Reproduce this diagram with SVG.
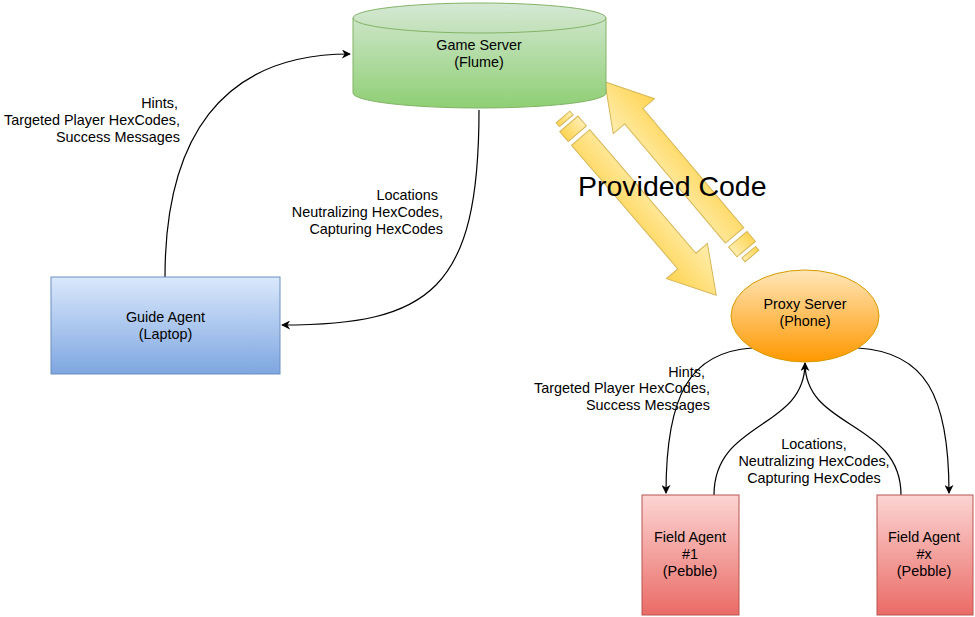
<svg xmlns="http://www.w3.org/2000/svg" width="975" height="617" viewBox="0 0 975 617">
<defs>
<linearGradient id="gGreen" x1="0" y1="0" x2="0" y2="1"><stop offset="0" stop-color="#d5e8d4"/><stop offset="1" stop-color="#8fcf74"/></linearGradient>
<linearGradient id="gBlue" x1="0" y1="0" x2="0" y2="1"><stop offset="0" stop-color="#dae8fc"/><stop offset="1" stop-color="#7ea6e0"/></linearGradient>
<linearGradient id="gOrange" x1="0" y1="0" x2="0" y2="1"><stop offset="0" stop-color="#ffe6b8"/><stop offset="1" stop-color="#ff9800"/></linearGradient>
<linearGradient id="gRed" x1="0" y1="0" x2="0" y2="1"><stop offset="0" stop-color="#fcd5d3"/><stop offset="1" stop-color="#ea6b66"/></linearGradient>
<linearGradient id="gYellow" x1="0" y1="0" x2="0" y2="1"><stop offset="0" stop-color="#ffeeb0"/><stop offset="1" stop-color="#ffd452"/></linearGradient>
<marker id="ah" viewBox="0 0 10 10" refX="9" refY="5" markerWidth="9" markerHeight="9" markerUnits="userSpaceOnUse" orient="auto">
<path d="M0,0 L10,5 L0,10 L3,5 Z" fill="#000"/>
</marker>
</defs>
<style>
text{font-family:"Liberation Sans",Arial,Helvetica,sans-serif;font-size:14.4px;fill:#000}
.c{text-anchor:middle}
.e{text-anchor:end}
.conn{fill:none;stroke:#000;stroke-width:1.2;marker-end:url(#ah)}
.plain{fill:none;stroke:#000;stroke-width:1.2}
.ya{fill:url(#gYellow);stroke:#d6b656;stroke-width:1}
</style>
<rect width="975" height="617" fill="#fff"/>

<g id="connectors">
<path class="conn" d="M165,277 C165,140 220,54 350,54"/>
<path class="conn" d="M479,110 C479,290 430,325 282,325"/>
<path class="conn" d="M752,348 C690,352 666,395 666,493"/>
<path class="conn" d="M858,348 C925,352 949,395 949,493"/>
<path class="conn" d="M714,495 C714,420 805,430 805,363"/>
<path class="plain" d="M901,495 C901,420 805,430 805,363"/>
</g>

<g id="provided-code">
<g transform="translate(563,117) rotate(49.3)">
<rect class="ya" x="0" y="-9" width="5" height="18"/>
<rect class="ya" x="9" y="-12" width="13" height="24"/>
<path class="ya" d="M27,-12 L190,-12 L190,-27 L235,0 L190,27 L190,12 L27,12 Z"/>
</g>
<g transform="translate(752,256) rotate(229.8)">
<rect class="ya" x="0" y="-9" width="5" height="18"/>
<rect class="ya" x="9" y="-12" width="13" height="24"/>
<path class="ya" d="M27,-12 L183,-12 L183,-27 L228,0 L183,27 L183,12 L27,12 Z"/>
</g>
<text x="578" y="196" style="font-size:28.5px">Provided Code</text>
</g>

<g id="game-server">
<path d="M353,18 A126.5,15 0 0 1 606,18 L606,93 A126.5,15 0 0 1 353,93 Z" fill="url(#gGreen)" stroke="#82b366" stroke-width="1"/>
<path d="M353,18 A126.5,15 0 0 0 606,18" fill="none" stroke="#82b366" stroke-width="1"/>
<text class="c" x="479" y="50">Game Server</text>
<text class="c" x="479" y="67">(Flume)</text>
</g>

<g id="guide-agent">
<rect x="51" y="277" width="229" height="97" fill="url(#gBlue)" stroke="#6c8ebf" stroke-width="1"/>
<text class="c" x="165.5" y="322">Guide Agent</text>
<text class="c" x="165.5" y="339">(Laptop)</text>
</g>

<g id="proxy-server">
<ellipse cx="805" cy="316" rx="74" ry="46" fill="url(#gOrange)" stroke="#d79b00" stroke-width="1"/>
<text class="c" x="805" y="309">Proxy Server</text>
<text class="c" x="805" y="326">(Phone)</text>
</g>

<g id="field-agent-1">
<rect x="642" y="495" width="97" height="120" fill="url(#gRed)" stroke="#b85450" stroke-width="1"/>
<text class="c" x="690" y="542">Field Agent</text>
<text class="c" x="690" y="559">#1</text>
<text class="c" x="690" y="576">(Pebble)</text>
</g>

<g id="field-agent-x">
<rect x="877" y="495" width="96" height="120" fill="url(#gRed)" stroke="#b85450" stroke-width="1"/>
<text class="c" x="924" y="542">Field Agent</text>
<text class="c" x="924" y="559">#x</text>
<text class="c" x="924" y="576">(Pebble)</text>
</g>

<g id="labels">
<text class="e" x="178" y="108">Hints,</text>
<text class="e" x="180" y="125">Targeted Player HexCodes,</text>
<text class="e" x="180" y="142">Success Messages</text>
<text class="e" x="438" y="200">Locations</text>
<text class="e" x="443" y="217">Neutralizing HexCodes,</text>
<text class="e" x="443" y="234">Capturing HexCodes</text>
<text class="e" x="705" y="377">Hints,</text>
<text class="e" x="710" y="393">Targeted Player HexCodes,</text>
<text class="e" x="710" y="410">Success Messages</text>
<text class="c" x="814" y="449">Locations,</text>
<text class="c" x="814" y="466">Neutralizing HexCodes,</text>
<text class="c" x="814" y="483">Capturing HexCodes</text>
</g>
</svg>
